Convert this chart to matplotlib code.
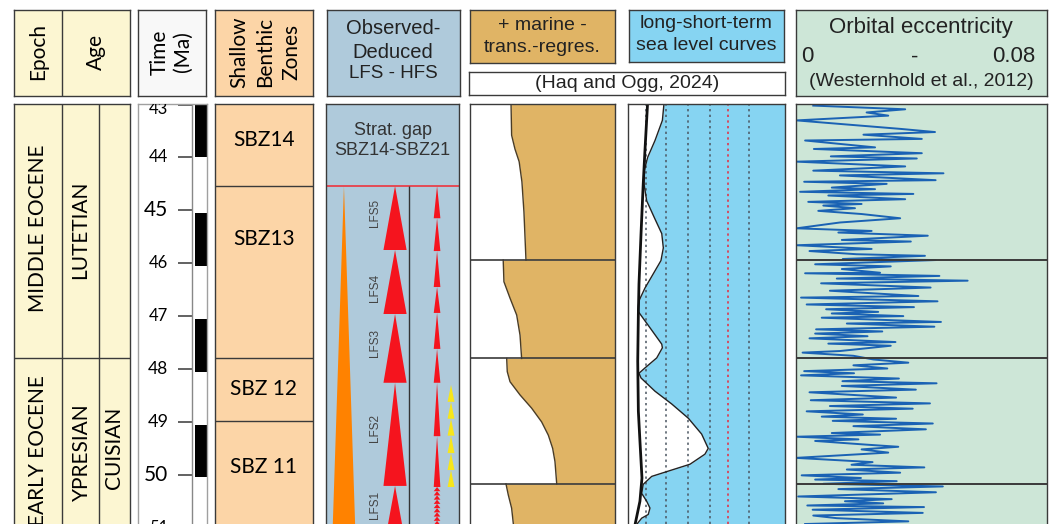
import matplotlib.pyplot as plt
from matplotlib.patches import Polygon, Rectangle
import numpy as np

W, H = 1051, 524
TOP, BOT = 42.99, 50.93          # age range shown in the body columns (Ma)
SANS = ["Lato", "DejaVu Sans"]
ARIAL = ["Liberation Sans", "DejaVu Sans"]

# ---------------- data ----------------
epoch_names = ["MIDDLE EOCENE", "EARLY EOCENE"]
epoch_label_at = [45.33, 49.55]
epoch_bound = 47.8
age_names = ["LUTETIAN", "YPRESIAN", "CUISIAN"]
age_label_at = [45.37, 49.57, 49.50]

time_ticks = [43, 44, 45, 46, 47, 48, 49, 50, 51]
tick_fs = [12, 12, 15, 12, 12, 12.5, 13, 15, 12]
chron_black = [(42.99, 44.0), (45.05, 46.05), (47.05, 48.05), (49.05, 50.05)]

sbz_names = ["SBZ14", "SBZ13", "SBZ 12", "SBZ 11"]
sbz_bounds = [44.54, 47.8, 48.98]
sbz_label_at = [43.67, 45.54, 48.38, 49.85]

gap_base = 44.54
lfs_names = ["LFS5", "LFS4", "LFS3", "LFS2", "LFS1"]
lfs_top = [44.54, 45.75, 46.96, 48.26, 50.21]
lfs_base = [45.75, 46.96, 48.26, 50.21, 51.40]
lfs_label_at = [45.05, 46.47, 47.51, 49.12, 50.57]
hfs_edges = [44.54, 45.15, 45.77, 46.45, 46.94, 47.62, 48.26, 49.27, 50.23,
             50.31, 50.39, 50.47, 50.55, 50.63, 50.71, 50.79, 50.87, 50.95]
yellow_edges = [48.30, 48.62, 48.94, 49.26, 49.59, 49.91, 50.23]
orange_base = 51.40

# marine transgression-regression curve, one list per sequence
tr_bounds = [45.94, 47.8, 50.17]
tr_age = [[42.99, 43.58, 43.84, 44.08, 44.46, 45.03, 45.94],
          [45.94, 46.35, 46.66, 46.98, 47.36, 47.80],
          [47.80, 48.05, 48.24, 48.49, 48.74, 49.00, 49.25, 49.50, 49.75, 50.17],
          [50.17, 50.38, 50.63, 50.93]]
tr_val = [[28.3, 28.7, 31.0, 33.9, 35.8, 37.2, 38.6],
          [22.9, 23.4, 27.6, 32.2, 34.5, 35.6],
          [25.3, 25.7, 27.6, 34.5, 42.5, 49.4, 54.0, 57.0, 58.6, 59.8],
          [24.8, 26.4, 28.7, 29.9]]

# sea level curves (Haq and Ogg, 2024)
sl_age = [42.99, 43.30, 43.68, 44.00, 44.25, 44.50, 44.82, 45.14, 45.44, 45.71,
          45.95, 46.20, 46.47, 46.71, 46.90, 47.22, 47.53, 47.60, 47.79, 47.98,
          48.08, 48.17, 48.42, 48.66, 48.93, 49.23, 49.50, 49.61, 49.80, 49.93,
          50.03, 50.18, 50.35, 50.50, 50.63, 50.75, 50.82, 50.94]
sl_short = [22.9, 21.9, 17.2, 12.5, 10.4, 10.2, 11.9, 16.8, 21.5, 22.5,
            21.0, 16.1, 10.8, 7.0, 6.2, 14.0, 21.5, 21.9, 18.3, 10.8,
            7.0, 8.3, 17.2, 27.8, 38.4, 46.9, 51.1, 49.0, 39.5, 25.7,
            15.1, 9.7, 8.7, 11.9, 14.0, 12.9, 8.7, 5.5]
lt_age = [42.96, 43.87, 44.50, 45.44, 46.39, 46.96, 47.85, 48.80, 49.36, 50.06, 50.50, 50.94]
sl_long = [12.5, 10.8, 9.7, 8.3, 7.0, 6.6, 6.2, 6.6, 7.6, 8.9, 7.6, 4.5]
sl_grid = [11.3, 24.2, 38.0, 52.2, 63.7, 77.1]
sl_grid_red = 63.7

# orbital eccentricity (Westerhold et al., 2012), in 1e-3
ecc_age = [43.02, 43.09, 43.15, 43.21, 43.30, 43.46, 43.52, 43.57, 43.65, 43.68,
           43.81, 43.84, 43.92, 43.98, 44.02, 44.08, 44.17, 44.25, 44.30, 44.34,
           44.43, 44.46, 44.50, 44.57, 44.60, 44.65, 44.69, 44.72, 44.79, 44.84,
           44.88, 44.91, 44.96, 45.01, 45.07, 45.15, 45.23, 45.34, 45.39, 45.42,
           45.48, 45.56, 45.59, 45.66, 45.73, 45.77, 45.83, 45.86, 45.92, 45.94,
           46.02, 46.06, 46.11, 46.18, 46.19, 46.24, 46.29, 46.33, 46.38, 46.46,
           46.52, 46.62, 46.65, 46.72, 46.78, 46.83, 46.87, 46.92, 46.95, 47.00,
           47.03, 47.11, 47.14, 47.20, 47.25, 47.29, 47.33, 47.38, 47.42, 47.49,
           47.52, 47.56, 47.66, 47.69, 47.75, 47.82,
           47.88, 47.93, 47.99, 48.04, 48.08, 48.12, 48.18, 48.23, 48.27, 48.32,
           48.39, 48.44, 48.54, 48.59, 48.65, 48.70, 48.75, 48.80, 48.86, 48.90,
           48.94, 48.98, 49.03, 49.08, 49.14, 49.21, 49.24, 49.28, 49.33, 49.36,
           49.43, 49.47, 49.52, 49.58, 49.68, 49.76, 49.81, 49.86, 49.90, 49.96,
           50.01, 50.06, 50.09, 50.12, 50.17,
           50.22, 50.27, 50.33, 50.41, 50.46, 50.50, 50.54, 50.58, 50.61, 50.66,
           50.72, 50.77, 50.82, 50.88, 50.93]
ecc_milli = [5.5, 34.8, 22.5, 29.4, 0.2, 33.2, 44.3, 21.5, 40.1, 2.9,
             25.2, 5.7, 40.1, 11.1, 38.5, 0.2, 34.8, 5.5, 47.0, 14.0,
             44.5, 2.6, 28.9, 11.4, 25.2, 1.3, 37.4, 10.3, 34.8, 3.9,
             20.9, 8.7, 18.8, 7.1, 20.9, 33.2, 14.0, 0.2, 24.1, 13.5,
             42.0, 14.6, 36.6, 0.2, 24.1, 4.3, 19.3, 41.1, 14.9, 44.5,
             6.1, 30.2, 14.6, 26.8, 2.9, 45.7, 13.0, 54.7, 8.0, 42.9,
             10.8, 39.0, 1.6, 45.1, 3.4, 37.6, 9.6, 26.2, 11.4, 34.2,
             8.2, 46.2, 16.2, 44.1, 6.4, 27.5, 6.1, 22.8, 4.3, 31.7,
             10.3, 30.2, 14.0, 2.1, 18.3, 24.7,
             35.8, 18.3, 29.1, 2.6, 18.5, 1.6, 32.8, 14.8, 44.8, 14.6,
             38.2, 4.3, 31.9, 4.7, 42.7, 10.8, 37.2, 3.4, 21.3, 8.2,
             31.9, 11.7, 43.6, 18.3, 41.4, 11.4, 26.8, 0.2, 19.9, 6.1,
             22.5, 32.6, 20.9, 29.4, 0.0, 24.4, 17.7, 40.9, 16.2, 33.2,
             1.8, 20.7, 6.1, 32.1, 8.7,
             46.8, 13.5, 44.6, 0.7, 30.5, 15.6, 27.8, 3.6, 40.8, 5.3,
             40.4, 5.5, 13.0, 35.8, 2.9]

# ---------------- colours ----------------
C_YEL = "#fcf6d2"
C_SBZ = "#fcd5a7"
C_LFS = "#afcadb"
C_TAN = "#e0b465"
C_SEA = "#86d4f2"
C_ECC = "#cde6d7"
EDGE = "#3a3a3a"

fig = plt.figure(figsize=(W / 100, H / 100), dpi=100)


def header(x0, y0, x1, y1, color):
    ax = fig.add_axes([x0 / W, 1 - y1 / H, (x1 - x0) / W, (y1 - y0) / H])
    ax.set_facecolor(color)
    ax.set_xticks([])
    ax.set_yticks([])
    for s in ax.spines.values():
        s.set_edgecolor(EDGE)
        s.set_linewidth(1)
    return ax


def column(x0, x1, color, xlim=(0, 1), edge=EDGE):
    ax = fig.add_axes([x0 / W, 0, (x1 - x0) / W, (H - 104) / H])
    ax.set_facecolor(color)
    ax.set_xlim(*xlim)
    ax.set_ylim(BOT, TOP)
    ax.set_xticks([])
    ax.set_yticks([])
    ax.spines["bottom"].set_visible(False)
    for s in ax.spines.values():
        s.set_edgecolor(edge)
        s.set_linewidth(1)
    return ax


def ftext(x, y, s, **kw):
    fig.text(x / W, 1 - y / H, s, ha="center", va="center", **kw)


# ---------------- headers ----------------
hd = header(14, 10, 130, 96, C_YEL)
hd.axvline(0.414, color=EDGE, lw=1)
ftext(38, 52, "Epoch", rotation=90, fontsize=15, family=SANS)
ftext(96, 52, "Age", rotation=90, fontsize=15, family=SANS)

header(138, 10, 206, 96, "#f8f8f8")
ftext(171, 52, "Time\n(Ma)", rotation=90, fontsize=15, family=SANS, linespacing=1.2)

header(215, 10, 313, 96, C_SBZ)
ftext(265, 52, "Shallow\nBenthic\nZones", rotation=90, fontsize=15, family=SANS, linespacing=1.38)

header(327, 10, 460, 96, C_LFS)
ftext(393, 29, "Observed-", fontsize=14.5, family=ARIAL, color="#222")
ftext(393, 52, "Deduced", fontsize=14.5, family=ARIAL, color="#222")
ftext(393, 74, "LFS - HFS", fontsize=13.5, family=ARIAL, color="#222")

header(470, 10, 615, 63, C_TAN)
ftext(542, 25, "+ marine -", fontsize=14, family=ARIAL, color="#222")
ftext(542, 47, "trans.-regres.", fontsize=14, family=ARIAL, color="#222")

header(469, 72, 785, 95, "white")
ftext(627, 84, "(Haq and Ogg, 2024)", fontsize=14, family=ARIAL, color="#222")

header(629, 10, 784, 62, C_SEA)
ftext(706, 24, "long-short-term", fontsize=14, family=ARIAL, color="#222")
ftext(706, 46, "sea level curves", fontsize=14, family=ARIAL, color="#222")

header(796, 10, 1047, 96, C_ECC)
ftext(921, 28, "Orbital eccentricity", fontsize=16, family=ARIAL, color="#222")
ftext(807, 57, "0", fontsize=16, family=ARIAL, color="#222")
ftext(915, 57, "-", fontsize=16, family=ARIAL, color="#222")
ftext(1014, 57, "0.08", fontsize=16, family=ARIAL, color="#222")
ftext(921, 82, "(Westernhold et al., 2012)", fontsize=14, family=ARIAL, color="#222")

# ---------------- epoch / age ----------------
ax = column(14, 130, C_YEL)
ax.axvline(0.414, color=EDGE, lw=1)
ax.axvline(0.733, color=EDGE, lw=1)
ax.axhline(epoch_bound, color=EDGE, lw=1)
for name, a in zip(epoch_names, epoch_label_at):
    ax.text(0.207, a, name, rotation=90, ha="center", va="center", fontsize=15, family=SANS)
for name, a, x in zip(age_names, age_label_at, [0.569, 0.586, 0.862]):
    ax.text(x, a, name, rotation=90, ha="center", va="center", fontsize=15, family=SANS)

# ---------------- time scale ----------------
ax = column(138, 207, "white", edge="#a0a0a0")
ax.hlines(time_ticks, 0.58, 0.783, color="#555555", lw=1.3)
for t, fs in zip(time_ticks, tick_fs):
    # the topmost label sits just under the frame
    ax.text(0.44, max(t, TOP + 0.1), str(t), ha="right", va="center", fontsize=fs,
            family=SANS, clip_on=True)
ax.axvline(0.783, color="#888888", lw=1)
for a, b in chron_black:
    ax.add_patch(Rectangle((0.826, a), 0.174, b - a, color="black", lw=0))

# ---------------- shallow benthic zones ----------------
ax = column(215, 313, C_SBZ)
ax.hlines(sbz_bounds, 0, 1, color=EDGE, lw=1)
for name, a in zip(sbz_names, sbz_label_at):
    ax.text(0.5, a, name, ha="center", va="center", fontsize=15, family=SANS)

# ---------------- LFS / HFS ----------------
ax = column(326, 459, C_LFS)
ax.text(0.5, 43.5, "Strat. gap", ha="center", va="center", fontsize=13, family=ARIAL, color="#333")
ax.text(0.5, 43.86, "SBZ14-SBZ21", ha="center", va="center", fontsize=13, family=ARIAL, color="#333")
ax.hlines(gap_base, 0, 1, color="#e8404a", lw=1.3)
ax.vlines(0.624, gap_base, BOT + 1, color="#333333", lw=1)
# long term orange wedge
ax.add_patch(Polygon([(0.135, gap_base), (0.045, orange_base), (0.225, orange_base)],
                     closed=True, color="#ff8200", lw=0))
# large LFS triangles
for top, base in zip(lfs_top, lfs_base):
    ax.add_patch(Polygon([(0.519, top), (0.432, base), (0.606, base)],
                         closed=True, color="#f5141e", lw=0))
for name, a in zip(lfs_names, lfs_label_at):
    ax.text(0.368, a, name, rotation=90, ha="center", va="center", fontsize=8.5,
            family=ARIAL, color="#444")
# small HFS triangles
for top, base in zip(hfs_edges[:-1], hfs_edges[1:]):
    ax.add_patch(Polygon([(0.835, top), (0.81, base), (0.86, base)],
                         closed=True, color="#f5141e", lw=0))
for top, base in zip(yellow_edges[:-1], yellow_edges[1:]):
    ax.add_patch(Polygon([(0.94, top), (0.914, base), (0.966, base)],
                         closed=True, color="#f7e61a", lw=0))

# ---------------- transgression-regression ----------------
ax = column(470, 615, "white", xlim=(0, 100))
for a, v in zip(tr_age, tr_val):
    ax.fill_betweenx(a, v, 100, color=C_TAN, lw=0)
    ax.plot(v, a, color="#4a3c25", lw=1)
ax.hlines(tr_bounds, 0, 100, color=EDGE, lw=1.2)

# ---------------- sea level ----------------
ax = column(628, 785, "white", xlim=(0, 100))
ax.fill_betweenx(sl_age, sl_short, 100, color=C_SEA, lw=0)
for g in sl_grid:
    ax.axvline(g, color="#e8283c" if g == sl_grid_red else "#4a5560",
               lw=1.1, ls=(0, (1.5, 2.2)))
ax.plot(sl_short, sl_age, color="#222222", lw=1)
ax.plot(sl_long, lt_age, color="#111111", lw=2)

# ---------------- eccentricity ----------------
ax = column(796, 1047, C_ECC, xlim=(0, 0.08))
ecc = np.array(ecc_milli) / 1000
ax.plot(ecc, ecc_age, color="#1a62b4", lw=1.4)
ax.hlines(tr_bounds, 0, 0.08, color=EDGE, lw=1.4)

fig.savefig("out.png", dpi=100)
